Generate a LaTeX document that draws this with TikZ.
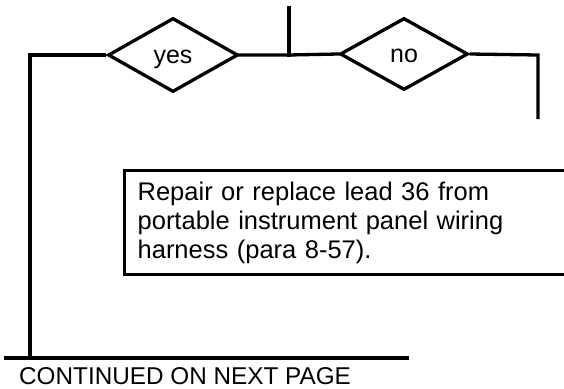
\documentclass[tikz,border=0pt]{standalone}
\usepackage{fontspec}
\setmainfont{Liberation Sans}
\usetikzlibrary{shapes.geometric}
\tikzset{
  wire/.style={line width=3.3pt, line cap=rect},
  decision/.style={diamond, draw, line width=3.3pt, inner sep=0pt, text height=16.5pt, text depth=0pt,
    font=\fontsize{25}{29}\selectfont},
  actionbox/.style={draw, line width=3.3pt, anchor=north west, inner xsep=13pt, inner ysep=0pt,
    minimum height=104pt, text width=440pt, align=left, font=\fontsize{25.5}{29}\selectfont},
}
\begin{document}
\begin{tikzpicture}[x=1pt, y=-1pt]
\useasboundingbox (0,0) rectangle (564,388);
\clip (0,0) rectangle (564,388);
\node[decision, minimum width=130pt, minimum height=74pt] (yes) at (173,55) {yes};
\node[decision, minimum width=128pt, minimum height=72pt] (no) at (404,54) {no};
\coordinate (top) at (289,8);
\coordinate (join) at (289,55);
\coordinate (lcorner) at (30,55);
\coordinate (lend) at (30,358);
\coordinate (rcorner) at (538,55);
\coordinate (rend) at (538,119);
\coordinate (bl) at (4,358);
\coordinate (br) at (409,358);
\draw[wire] (top) -- (join);
\draw[wire] (yes.east) -- (join) -- (no.west);
\draw[wire, line cap=butt] (yes.west) -- (lcorner) -- (lend);
\draw[wire, line cap=butt] (no.east) -- (rcorner) -- (rend);
\draw[wire, line width=3.6pt, line cap=butt] (bl) -- (br);
\node[actionbox] (repair) at (123,169) {Repair or replace lead 36 from\\
portable instrument panel wiring\\
harness (para 8-57).};
\node[anchor=base west, inner sep=0pt, font=\fontsize{24.3}{29}\selectfont] (cont) at (19,384) {CONTINUED ON NEXT PAGE};
\end{tikzpicture}
\end{document}
